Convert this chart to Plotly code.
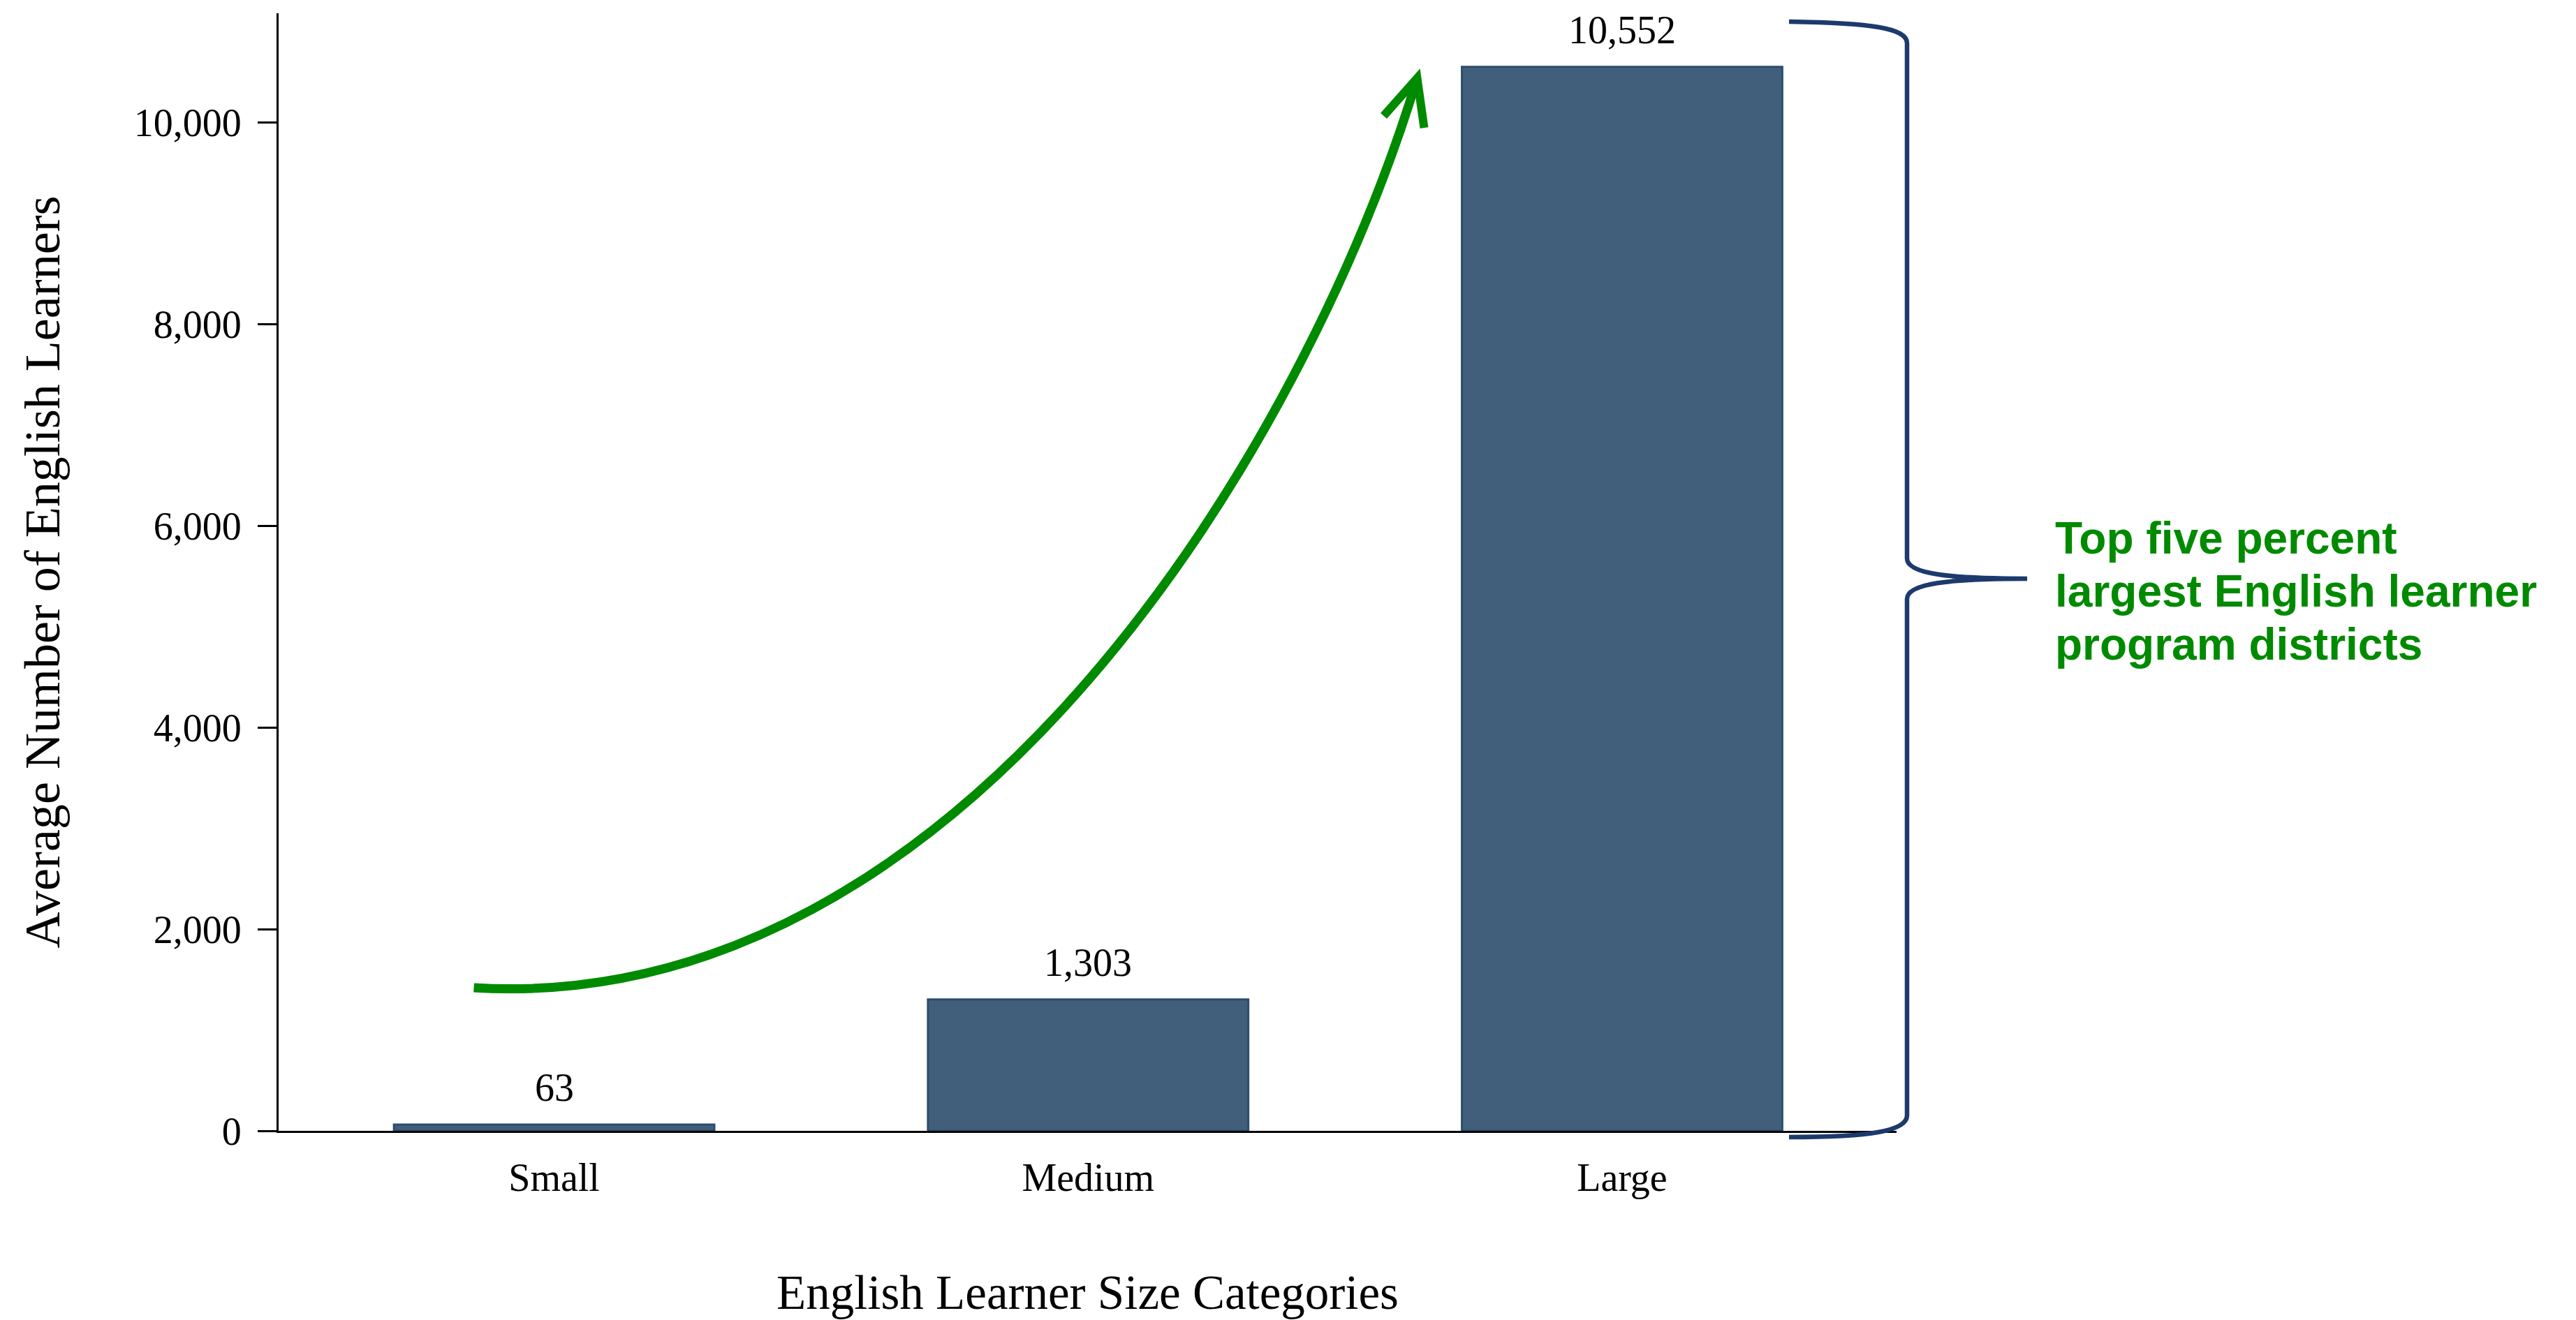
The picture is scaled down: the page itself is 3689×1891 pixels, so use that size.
import plotly.graph_objects as go

# ---------------- data ----------------
categories = ["Small", "Medium", "Large"]
avg_learners = [63, 1303, 10552]
y_tick_values = [0, 2000, 4000, 6000, 8000, 10000]
note_lines = ["Top five percent", "largest English learner", "program districts"]

x_title = "English Learner Size Categories"
y_title = "Average Number of English Learners"

# ---------------- geometry / style ----------------
W, H = 3689, 1891
L, R, T, B = 399, 973, 19, 271
plot_w = W - L - R
plot_h = H - T - B

SERIF = "Liberation Serif, Times New Roman, serif"
SANS = "Liberation Sans, Arial, sans-serif"
BAR_FILL = "#415f7b"
BAR_EDGE = "#2b4d70"
GREEN = "#008a00"
NAVY = "#1c3a6c"

x_pos = list(range(len(categories)))


def paper(px, py):
    """pixel position on the page -> paper coordinates"""
    return (px - L) / plot_w, (H - B - py) / plot_h


fig = go.Figure()
fig.add_trace(go.Bar(
    x=x_pos, y=avg_learners, width=0.6,
    marker=dict(color=BAR_FILL, line=dict(color=BAR_EDGE, width=3)),
    hoverinfo="skip", showlegend=False,
))

# value labels above bars
for xi, v in zip(x_pos, avg_learners):
    fig.add_annotation(x=xi, y=v, xref="x", yref="y", text=f"{v:,}",
                       showarrow=False, yanchor="bottom", yshift=20,
                       font=dict(family=SERIF, size=56, color="black"))

# ---------------- green growth arrow (data units: category index, learners) ----------------
arrow_bezier = [(-0.1504, 1419), (0.7650, 1128), (1.4077, 6798), (1.6162, 10439)]
arrow_head = [(1.5535, 10065), (1.6162, 10439), (1.6293, 9947)]

p = arrow_bezier
fig.add_shape(type="path", xref="x", yref="y",
              path=f"M {p[0][0]},{p[0][1]} C {p[1][0]},{p[1][1]} {p[2][0]},{p[2][1]} {p[3][0]},{p[3][1]}",
              line=dict(color=GREEN, width=13), layer="above")
h = arrow_head
fig.add_shape(type="path", xref="x", yref="y",
              path=f"M {h[0][0]},{h[0][1]} L {h[1][0]},{h[1][1]} L {h[2][0]},{h[2][1]}",
              line=dict(color=GREEN, width=12), layer="above")

# ---------------- navy brace (page pixels -> paper) ----------------
def P(px, py):
    a, b = paper(px, py)
    return f"{a:.5f},{b:.5f}"

brace = (f"M {P(2562, 31)} C {P(2680, 33)} {P(2731, 40)} {P(2731, 62)} "
         f"L {P(2731, 800)} C {P(2731, 822)} {P(2790, 829)} {P(2903, 829)} "
         f"C {P(2790, 829)} {P(2731, 836)} {P(2731, 858)} "
         f"L {P(2731, 1598)} C {P(2731, 1620)} {P(2680, 1629)} {P(2562, 1629)}")
fig.add_shape(type="path", xref="paper", yref="paper", path=brace,
              line=dict(color=NAVY, width=6.5), layer="above")

note_y = [771, 847, 923]
for txt, py in zip(note_lines, note_y):
    ax_, ay_ = paper(2941, py)
    fig.add_annotation(x=ax_, y=ay_, xref="paper", yref="paper", text=f"<b>{txt}</b>",
                       showarrow=False, xanchor="left", yanchor="middle",
                       font=dict(family=SANS, size=64, color=GREEN))

fig.update_layout(
    width=W, height=H, autosize=False,
    margin=dict(l=L, r=R, t=T, b=B, pad=0),
    plot_bgcolor="white", paper_bgcolor="white",
    font=dict(family=SERIF, color="black"),
    bargap=0.4,
    xaxis=dict(
        range=[-0.516, 2.514], tickvals=x_pos, ticktext=categories,
        showgrid=False, zeroline=False, showline=True, linecolor="black", linewidth=3,
        ticks="", ticklabelstandoff=16,
        tickfont=dict(family=SERIF, size=56, color="black"),
        title=dict(text=x_title, font=dict(family=SERIF, size=69, color="black"), standoff=110),
        automargin=False,
    ),
    yaxis=dict(
        range=[0, 11083], tickvals=y_tick_values, tickformat=",",
        showgrid=False, zeroline=False, showline=True, linecolor="black", linewidth=3,
        ticks="outside", ticklen=27, tickwidth=3, tickcolor="black", ticklabelstandoff=12,
        tickfont=dict(family=SERIF, size=56, color="black"),
        title=dict(text=y_title, font=dict(family=SERIF, size=72, color="black"), standoff=83),
        automargin=False,
    ),
)

fig.write_html("out.html", config={"displayModeBar": False},
               post_script="document.body.style.margin='0';document.body.style.overflow='hidden';")
